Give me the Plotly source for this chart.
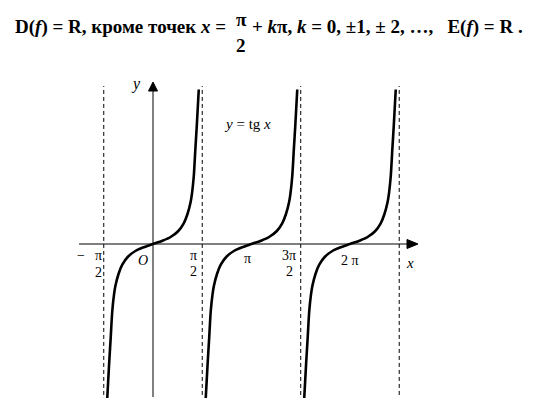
import math
import plotly.graph_objects as go

W, H = 541, 406
PAD = 8  # the page body puts the figure 8px in from the corner
FW, FH = W - 2 * PAD, H - 2 * PAD

# one branch of y = tg x (offset from branch centre, value)
branch_dx = [-1.46, -1.40, -1.35, -1.30, -1.244, -1.2, -1.1, -0.98, -0.8, -0.55, -0.3, 0.0,
             0.3, 0.55, 0.8, 0.98, 1.1, 1.2, 1.244, 1.30, 1.35, 1.40, 1.46]
branch_y = [-10.3, -8.0, -6.27, -4.5, -3.38, -2.8, -2.0, -1.38, -0.85, -0.45, -0.22, 0.0,
            0.22, 0.45, 0.85, 1.38, 2.0, 2.8, 3.38, 4.5, 6.27, 8.0, 10.3]
branch_centers = [0.0, math.pi, 2 * math.pi]
asymptotes = [-math.pi / 2, math.pi / 2, 3 * math.pi / 2, 5 * math.pi / 2]

# page pixel mapping: x_px = 153 + 31.35*X, y_px = 244 - 15*Y
SX, SY, OX, OY = 31.35, 15.0, 153, 244
SERIF = "Liberation Serif"

fig = go.Figure()
for c in branch_centers:
    fig.add_trace(go.Scatter(
        x=[c + d for d in branch_dx], y=branch_y, mode="lines",
        line=dict(color="black", width=2.6, shape="spline", smoothing=0.8),
        hoverinfo="skip", showlegend=False,
    ))

shapes = []
for a in asymptotes:
    shapes.append(dict(type="line", x0=a, x1=a, y0=-10.53, y1=10.53, xref="x", yref="y",
                       line=dict(color="black", width=1, dash="4px,3px")))

x_lo, x_tip = (79 - OX) / SX, (418 - OX) / SX
y_lo, y_tip = (OY - 397) / SY, (OY - 82) / SY
shapes.append(dict(type="line", x0=x_lo, x1=x_tip - 0.2, y0=0, y1=0, line=dict(color="black", width=1)))
shapes.append(dict(type="line", x0=0, x1=0, y0=y_lo, y1=y_tip - 0.4, line=dict(color="black", width=1)))
# arrow heads
xb = (407 - OX) / SX
shapes.append(dict(type="path", path=f"M {x_tip},0 L {xb},{4.5/SY} L {xb},{-4.5/SY} Z",
                   fillcolor="black", line=dict(color="black", width=1)))
yb = (OY - 91) / SY
shapes.append(dict(type="path", path=f"M 0,{y_tip} L {-4.5/SX},{yb} L {4.5/SX},{yb} Z",
                   fillcolor="black", line=dict(color="black", width=1)))


def ann(text, px, py, size=14, xanchor="center", bold=False):
    return dict(text=text, x=(px - PAD) / FW, y=1 - (py - PAD) / FH, xref="paper", yref="paper",
                xanchor=xanchor, yanchor="middle", showarrow=False,
                font=dict(family=SERIF, size=size, color="black", weight="bold" if bold else "normal"))


nb = "\u00a0"
annotations = [
    ann("D(<i>f</i>) = R, кроме точек <i>x</i> =", 13, 27, 19, "left", True),
    ann("π", 241, 19, 19, bold=True),
    ann("2", 241, 45, 19, bold=True),
    ann(f"+ <i>k</i>π, <i>k</i> = 0, ±1, ±{nb}2, …,{nb}{nb}{nb}E(<i>f</i>) = R{nb}.", 250, 27, 19, "left", True),
    ann("−", 81, 256),
    ann("π", 98, 256),
    ann("2", 98, 272),
    ann("<i>O</i>", 143, 260),
    ann("π", 193, 255),
    ann("2", 193, 271),
    ann("π", 247, 258),
    ann("3π", 289, 255),
    ann("2", 289, 271),
    ann(f"2{nb}π", 350, 260),
    ann("<i>x</i>", 410, 263, 15),
    ann("<i>y</i>", 136, 84, 16),
    ann("<i>y</i> = tg <i>x</i>", 222, 124, 15, "left"),
]

x0 = (OX - PAD) / SX
y0 = (OY - PAD) / SY
fig.update_layout(
    width=FW, height=FH, margin=dict(l=0, r=0, t=0, b=0),
    paper_bgcolor="white", plot_bgcolor="white",
    xaxis=dict(range=[-x0, (FW - (OX - PAD)) / SX], visible=False, fixedrange=True),
    yaxis=dict(range=[-(FH - (OY - PAD)) / SY, y0], visible=False, fixedrange=True),
    shapes=shapes, annotations=annotations, showlegend=False,
)

fig.write_html("out.html", config={"displayModeBar": False})
